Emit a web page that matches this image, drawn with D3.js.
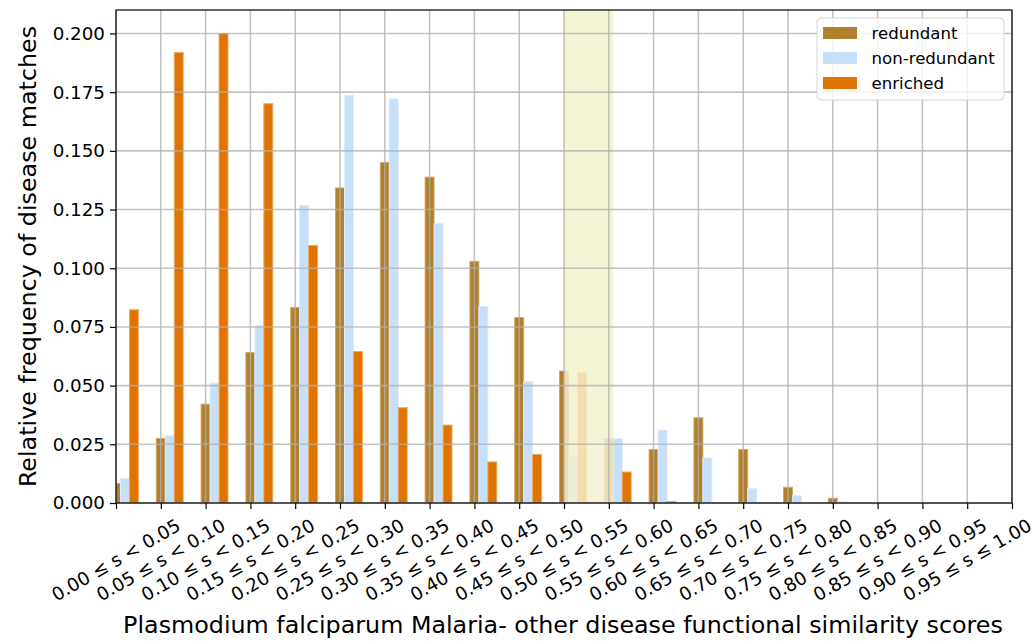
<!DOCTYPE html>
<html>
<head>
<meta charset="utf-8">
<script src="https://cdn.jsdelivr.net/npm/d3@7"></script>
<style>
  body { margin: 0; background: #fff; }
  svg { font-family: "DejaVu Sans", sans-serif; }
</style>
</head>
<body>
<svg id="chart" width="1036" height="644"></svg>
<script>
const categories = [
  "0.00 ≤ s < 0.05", "0.05 ≤ s < 0.10", "0.10 ≤ s < 0.15", "0.15 ≤ s < 0.20",
  "0.20 ≤ s < 0.25", "0.25 ≤ s < 0.30", "0.30 ≤ s < 0.35", "0.35 ≤ s < 0.40",
  "0.40 ≤ s < 0.45", "0.45 ≤ s < 0.50", "0.50 ≤ s < 0.55", "0.55 ≤ s < 0.60",
  "0.60 ≤ s < 0.65", "0.65 ≤ s < 0.70", "0.70 ≤ s < 0.75", "0.75 ≤ s < 0.80",
  "0.80 ≤ s < 0.85", "0.85 ≤ s < 0.90", "0.90 ≤ s < 0.95", "0.95 ≤ s ≤ 1.00"
];
const redundant = [0.0083, 0.0275, 0.0421, 0.0641, 0.0833, 0.1342, 0.1450, 0.1388, 0.1029, 0.0790,
  0.0562, 0.0275, 0.0228, 0.0363, 0.0228, 0.0067, 0.0020, 0, 0, 0];
const nonRedundant = [0.0104, 0.0286, 0.0510, 0.0755, 0.1268, 0.1737, 0.1722, 0.1190, 0.0837, 0.0517,
  0.0204, 0.0275, 0.0310, 0.0192, 0.0061, 0.0031, 0.0005, 0, 0, 0];
const enriched = [0.0823, 0.1919, 0.2000, 0.1701, 0.1097, 0.0645, 0.0406, 0.0332, 0.0175, 0.0207,
  0.0555, 0.0132, 0.0006, 0, 0, 0, 0, 0, 0, 0];
const seriesNames = ["redundant", "non-redundant", "enriched"];
const yTicks = [0, 0.025, 0.05, 0.075, 0.1, 0.125, 0.15, 0.175, 0.2];
const band = [10, 11.1];

const colors = { "redundant": "#b0802c", "non-redundant": "#c6e0fa", "enriched": "#df7400" };
const edges = { "redundant": "#d0a868", "non-redundant": "#dcecfc", "enriched": "#f0a860" };

const svg = d3.select("#chart");
const plotLeft = 116, plotRight = 1012, plotTop = 10, plotBottom = 503;
const barW = 0.2;
const tickFont = 18.3, labelFont = 23.8, legendFont = 16.6;

const ymax = d3.max([...redundant, ...nonRedundant, ...enriched]) * 1.05;
const x = d3.scaleLinear().domain([0, 20]).range([plotLeft, plotRight]);
const y = d3.scaleLinear().domain([0, ymax]).range([plotBottom, plotTop]);

svg.append("clipPath").attr("id", "plot-clip")
  .append("rect")
  .attr("x", plotLeft).attr("y", plotTop)
  .attr("width", plotRight - plotLeft).attr("height", plotBottom - plotTop);

const plot = svg.append("g").attr("clip-path", "url(#plot-clip)");

// barres : une série décalée de 0.2 à chaque fois
const series = [redundant, nonRedundant, enriched];
series.forEach((values, s) => {
  const name = seriesNames[s];
  plot.append("g").selectAll("rect")
    .data(values)
    .join("rect")
    .attr("x", (d, i) => x(i + s * barW - barW / 2))
    .attr("width", x(barW) - x(0))
    .attr("y", d => y(d))
    .attr("height", d => y(0) - y(d))
    .attr("fill", colors[name])
    .attr("stroke", d => d > 0 ? edges[name] : "none")
    .attr("stroke-width", 1);
});

// zone surlignée
plot.append("rect")
  .attr("x", x(band[0]))
  .attr("width", x(band[1]) - x(band[0]))
  .attr("y", plotTop)
  .attr("height", plotBottom - plotTop)
  .attr("fill", "rgb(243, 242, 206)")
  .attr("fill-opacity", 0.84);

// grille
const grid = svg.append("g")
  .attr("stroke", "#b0b0b0")
  .attr("stroke-opacity", 0.75)
  .attr("stroke-width", 1.6);
grid.selectAll(".gx")
  .data(d3.range(0, 21))
  .join("line")
  .attr("class", "gx")
  .attr("x1", d => x(d)).attr("x2", d => x(d))
  .attr("y1", plotTop).attr("y2", plotBottom);
grid.selectAll(".gy")
  .data(yTicks)
  .join("line")
  .attr("class", "gy")
  .attr("x1", plotLeft).attr("x2", plotRight)
  .attr("y1", d => y(d)).attr("y2", d => y(d));

// axes
const yAxis = d3.axisLeft(y)
  .tickValues(yTicks)
  .tickFormat(d3.format(".3f"))
  .tickSize(6)
  .tickPadding(5);
svg.append("g")
  .attr("transform", `translate(${plotLeft},0)`)
  .call(yAxis)
  .call(g => g.select(".domain").remove())
  .call(g => g.selectAll("text").attr("font-size", tickFont).attr("fill", "#000").attr("font-family", "DejaVu Sans"))
  .call(g => g.selectAll("line").attr("stroke", "#000").attr("stroke-width", 1.2));

const xAxis = d3.axisBottom(x)
  .tickValues(d3.range(0, 21))
  .tickFormat("")
  .tickSize(6);
svg.append("g")
  .attr("transform", `translate(0,${plotBottom})`)
  .call(xAxis)
  .call(g => g.select(".domain").remove())
  .call(g => g.selectAll("line").attr("stroke", "#000").attr("stroke-width", 1.2));

// étiquettes inclinées à 30°
const xLabels = svg.append("g")
  .attr("font-size", tickFont)
  .attr("fill", "#000");
xLabels.selectAll("text")
  .data(categories)
  .join("text")
  .attr("text-anchor", "middle")
  .attr("dy", "0.35em")
  .text(d => d)
  .attr("transform", function(d, i) {
    const w = this.getComputedTextLength();
    const h = w * 0.5 + tickFont * 1.1 * 0.866;
    return `translate(${x(i)},${plotBottom + 12 + h / 2}) rotate(-30)`;
  });

// cadre
svg.append("rect")
  .attr("x", plotLeft).attr("y", plotTop)
  .attr("width", plotRight - plotLeft).attr("height", plotBottom - plotTop)
  .attr("fill", "none")
  .attr("stroke", "#000")
  .attr("stroke-width", 1.2);

// titres des axes
svg.append("text")
  .attr("x", (plotLeft + plotRight) / 2 - 1)
  .attr("y", 633)
  .attr("text-anchor", "middle")
  .attr("font-size", labelFont)
  .attr("fill", "#000")
  .text("Plasmodium falciparum Malaria- other disease functional similarity scores");

svg.append("text")
  .attr("transform", `translate(36,${(plotTop + plotBottom) / 2}) rotate(-90)`)
  .attr("text-anchor", "middle")
  .attr("font-size", labelFont)
  .attr("fill", "#000")
  .text("Relative frequency of disease matches");

// légende
const legend = svg.append("g").attr("transform", "translate(817,18)");
legend.append("rect")
  .attr("width", 187).attr("height", 82)
  .attr("rx", 4)
  .attr("fill", "#fff").attr("fill-opacity", 0.8)
  .attr("stroke", "#d6d6d6");
seriesNames.forEach((name, i) => {
  legend.append("rect")
    .attr("x", 6).attr("y", 9 + i * 25)
    .attr("width", 34).attr("height", 12)
    .attr("fill", colors[name]);
  legend.append("text")
    .attr("x", 54.5).attr("y", 15 + i * 25)
    .attr("dy", "0.35em")
    .attr("font-size", legendFont)
    .attr("fill", "#000")
    .text(name);
});
</script>
</body>
</html>
